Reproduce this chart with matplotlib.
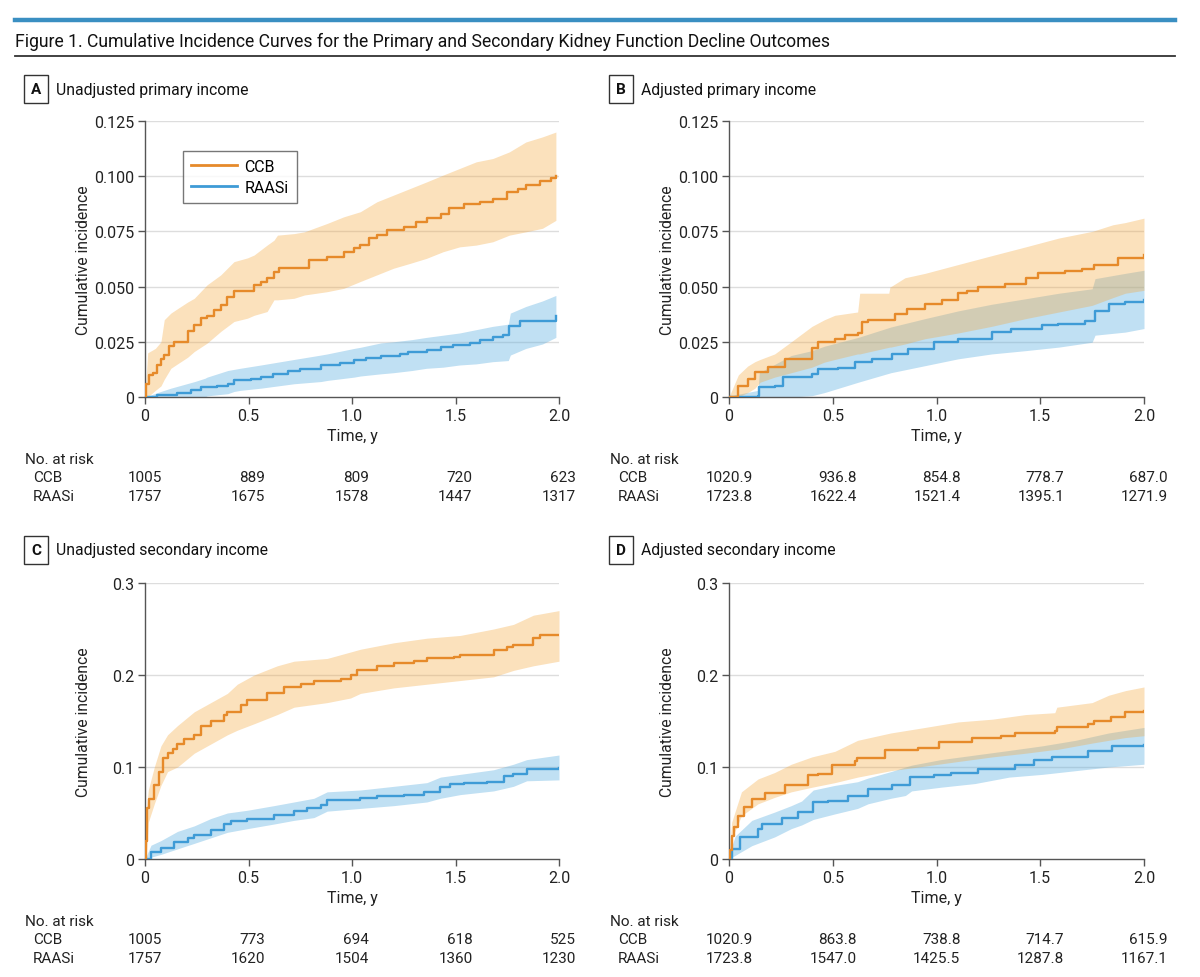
import matplotlib
matplotlib.use("Agg")
import matplotlib.pyplot as plt
from matplotlib import transforms
from matplotlib.lines import Line2D

plt.rcParams['font.family'] = ['Roboto', 'DejaVu Sans']

# ---------------- DATA ----------------
time_ticks = [0, 0.5, 1.0, 1.5, 2.0]
time_tick_labels = ['0', '0.5', '1.0', '1.5', '2.0']
yticks_primary = [0, 0.025, 0.050, 0.075, 0.100, 0.125]
ylabels_primary = ['0', '0.025', '0.050', '0.075', '0.100', '0.125']
yticks_secondary = [0, 0.1, 0.2, 0.3]
ylabels_secondary = ['0', '0.1', '0.2', '0.3']
groups = ['CCB', 'RAASi']

# Panel A - unadjusted primary
a_ccb_t = [0, 0.005, 0.02, 0.037, 0.06, 0.077, 0.093, 0.117, 0.141, 0.206, 0.238, 0.27, 0.30, 0.334, 0.366, 0.398, 0.43, 0.527, 0.559, 0.59, 0.623, 0.647, 0.792, 0.88, 0.96, 1.009, 1.041, 1.08, 1.12, 1.17, 1.25, 1.31, 1.36, 1.43, 1.47, 1.54, 1.62, 1.68, 1.75, 1.80, 1.84, 1.91, 1.96, 1.985]
a_ccb_y = [0, 0.006, 0.01, 0.011, 0.0146, 0.017, 0.019, 0.023, 0.025, 0.0297, 0.0327, 0.0357, 0.0365, 0.0395, 0.0417, 0.0455, 0.048, 0.0507, 0.0523, 0.0538, 0.0568, 0.0586, 0.062, 0.0636, 0.0658, 0.0673, 0.0688, 0.0718, 0.0733, 0.0756, 0.0771, 0.0794, 0.0809, 0.0831, 0.0854, 0.0872, 0.0884, 0.0899, 0.0929, 0.0941, 0.0959, 0.0977, 0.099, 0.100]
a_ccb_ci_t = [0, 0.013, 0.05, 0.077, 0.093, 0.125, 0.157, 0.206, 0.238, 0.30, 0.366, 0.43, 0.495, 0.527, 0.59, 0.623, 0.64, 0.72, 0.77, 0.88, 0.96, 1.04, 1.12, 1.2, 1.28, 1.36, 1.44, 1.52, 1.60, 1.68, 1.76, 1.84, 1.92, 1.985]
a_ccb_hi = [0, 0.02, 0.022, 0.025, 0.035, 0.038, 0.040, 0.043, 0.0447, 0.0508, 0.0553, 0.0613, 0.063, 0.0643, 0.0688, 0.071, 0.0733, 0.074, 0.0748, 0.0786, 0.0816, 0.0839, 0.0884, 0.0914, 0.0944, 0.0974, 0.1005, 0.1035, 0.1065, 0.108, 0.111, 0.1155, 0.1178, 0.12]
a_ccb_lo = [0, 0, 0.003, 0.005, 0.008, 0.013, 0.015, 0.018, 0.0206, 0.0244, 0.0297, 0.0342, 0.0357, 0.037, 0.0387, 0.044, 0.044, 0.0447, 0.0462, 0.0477, 0.0492, 0.0523, 0.0553, 0.0583, 0.0605, 0.0628, 0.0658, 0.068, 0.0688, 0.0703, 0.0733, 0.0748, 0.0764, 0.08]
a_raas_t = [0, 0.06, 0.157, 0.22, 0.27, 0.35, 0.40, 0.43, 0.51, 0.56, 0.62, 0.69, 0.75, 0.85, 0.94, 1.01, 1.07, 1.14, 1.23, 1.27, 1.36, 1.43, 1.49, 1.57, 1.62, 1.68, 1.73, 1.76, 1.81, 1.91, 1.985]
a_raas_y = [0, 0.001, 0.002, 0.003, 0.0045, 0.005, 0.0057, 0.0075, 0.008, 0.009, 0.0105, 0.0116, 0.0128, 0.0143, 0.0155, 0.0166, 0.0175, 0.0185, 0.0196, 0.0205, 0.0215, 0.0226, 0.0236, 0.0245, 0.026, 0.027, 0.028, 0.032, 0.0345, 0.0345, 0.0365]
a_raas_ci_t = [0, 0.06, 0.125, 0.24, 0.29, 0.30, 0.35, 0.40, 0.43, 0.46, 0.56, 0.72, 0.85, 0.88, 1.01, 1.04, 1.14, 1.2, 1.29, 1.36, 1.44, 1.52, 1.60, 1.68, 1.755, 1.765, 1.84, 1.92, 1.985]
a_raas_hi = [0, 0.002, 0.004, 0.007, 0.0085, 0.009, 0.0105, 0.012, 0.0125, 0.013, 0.0145, 0.017, 0.019, 0.0195, 0.022, 0.0225, 0.0245, 0.025, 0.026, 0.027, 0.028, 0.029, 0.0305, 0.032, 0.033, 0.038, 0.041, 0.0435, 0.046]
a_raas_lo = [0, 0, 0, 0, 0, 0.0005, 0.001, 0.0015, 0.0025, 0.003, 0.004, 0.006, 0.007, 0.0075, 0.009, 0.0095, 0.0105, 0.011, 0.012, 0.013, 0.0135, 0.0145, 0.015, 0.016, 0.0165, 0.019, 0.022, 0.024, 0.027]

# Panel B - adjusted primary
b_ccb_t = [0, 0.045, 0.093, 0.125, 0.19, 0.27, 0.40, 0.43, 0.51, 0.56, 0.623, 0.64, 0.67, 0.8, 0.856, 0.945, 1.025, 1.105, 1.145, 1.2, 1.33, 1.43, 1.49, 1.62, 1.70, 1.76, 1.876, 2.0]
b_ccb_y = [0, 0.005, 0.008, 0.0115, 0.0135, 0.017, 0.022, 0.025, 0.0264, 0.028, 0.029, 0.034, 0.035, 0.0377, 0.040, 0.042, 0.044, 0.047, 0.048, 0.050, 0.051, 0.054, 0.056, 0.057, 0.058, 0.060, 0.063, 0.0645]
b_ccb_ci_t = [0, 0.045, 0.09, 0.125, 0.15, 0.22, 0.30, 0.40, 0.46, 0.51, 0.62, 0.63, 0.77, 0.776, 0.78, 0.848, 0.945, 1.105, 1.266, 1.43, 1.59, 1.75, 1.85, 1.91, 2.0]
b_ccb_hi = [0, 0.01, 0.014, 0.016, 0.017, 0.0195, 0.025, 0.032, 0.035, 0.037, 0.0385, 0.047, 0.047, 0.050, 0.050, 0.054, 0.056, 0.060, 0.064, 0.068, 0.072, 0.075, 0.078, 0.079, 0.081]
b_ccb_lo = [0, 0, 0.002, 0.004, 0.0067, 0.009, 0.011, 0.0135, 0.0158, 0.017, 0.0195, 0.0195, 0.0225, 0.0226, 0.0226, 0.024, 0.0264, 0.029, 0.032, 0.0355, 0.0385, 0.0415, 0.045, 0.047, 0.0483]
b_raas_t = [0, 0.14, 0.146, 0.22, 0.26, 0.40, 0.43, 0.527, 0.607, 0.69, 0.784, 0.864, 0.99, 1.105, 1.266, 1.36, 1.507, 1.587, 1.716, 1.764, 1.83, 1.91, 2.0]
b_raas_y = [0, 0.0006, 0.0044, 0.005, 0.009, 0.0105, 0.0127, 0.013, 0.0158, 0.0173, 0.0195, 0.0218, 0.0248, 0.0264, 0.0294, 0.0306, 0.0324, 0.0332, 0.0342, 0.039, 0.042, 0.043, 0.044]
b_raas_ci_t = [0, 0.03, 0.14, 0.146, 0.30, 0.40, 0.46, 0.623, 0.78, 0.945, 1.105, 1.266, 1.43, 1.59, 1.75, 1.764, 1.91, 2.0]
b_raas_hi = [0, 0.001, 0.003, 0.011, 0.0188, 0.021, 0.023, 0.027, 0.0317, 0.0355, 0.039, 0.042, 0.0445, 0.047, 0.049, 0.0536, 0.056, 0.0574]
b_raas_lo = [0, 0, 0, 0, 0, 0.0006, 0.002, 0.0067, 0.011, 0.0142, 0.0173, 0.0195, 0.021, 0.0226, 0.0248, 0.028, 0.0294, 0.031]

# Panel C - unadjusted secondary
c_ccb_t = [0, 0.005, 0.01, 0.021, 0.045, 0.069, 0.085, 0.109, 0.133, 0.157, 0.19, 0.238, 0.27, 0.318, 0.382, 0.398, 0.463, 0.495, 0.591, 0.671, 0.752, 0.816, 0.945, 0.993, 1.025, 1.121, 1.202, 1.298, 1.362, 1.491, 1.523, 1.684, 1.748, 1.78, 1.876, 1.908, 2.0]
c_ccb_y = [0, 0.02, 0.055, 0.065, 0.08, 0.095, 0.11, 0.115, 0.12, 0.125, 0.13, 0.135, 0.145, 0.150, 0.157, 0.16, 0.167, 0.173, 0.180, 0.187, 0.190, 0.193, 0.196, 0.200, 0.205, 0.210, 0.213, 0.215, 0.218, 0.220, 0.222, 0.227, 0.230, 0.233, 0.240, 0.243, 0.243]
c_ccb_ci_t = [0, 0.005, 0.016, 0.045, 0.077, 0.109, 0.157, 0.238, 0.318, 0.398, 0.446, 0.527, 0.639, 0.72, 0.88, 0.993, 1.041, 1.202, 1.362, 1.523, 1.684, 1.78, 1.876, 2.0]
c_ccb_hi = [0, 0.05, 0.075, 0.10, 0.123, 0.135, 0.145, 0.160, 0.170, 0.180, 0.190, 0.200, 0.210, 0.215, 0.218, 0.225, 0.228, 0.235, 0.240, 0.243, 0.250, 0.255, 0.265, 0.270]
c_ccb_lo = [0, 0.0, 0.04, 0.06, 0.08, 0.095, 0.100, 0.115, 0.125, 0.135, 0.140, 0.147, 0.157, 0.165, 0.170, 0.175, 0.180, 0.186, 0.190, 0.194, 0.198, 0.205, 0.210, 0.215]
c_raas_t = [0, 0.029, 0.077, 0.141, 0.206, 0.238, 0.318, 0.382, 0.414, 0.495, 0.559, 0.623, 0.72, 0.784, 0.848, 0.88, 1.041, 1.121, 1.25, 1.346, 1.427, 1.475, 1.539, 1.651, 1.732, 1.78, 1.844, 1.956, 2.0]
c_raas_y = [0, 0.008, 0.012, 0.019, 0.023, 0.026, 0.032, 0.038, 0.041, 0.043, 0.044, 0.048, 0.052, 0.055, 0.059, 0.064, 0.066, 0.069, 0.070, 0.073, 0.078, 0.082, 0.083, 0.084, 0.090, 0.092, 0.098, 0.098, 0.099]
c_raas_ci_t = [0, 0.029, 0.077, 0.157, 0.238, 0.318, 0.398, 0.495, 0.623, 0.72, 0.816, 0.88, 1.041, 1.202, 1.362, 1.427, 1.523, 1.684, 1.78, 1.844, 2.0]
c_raas_hi = [0, 0.015, 0.02, 0.03, 0.036, 0.044, 0.050, 0.053, 0.058, 0.062, 0.066, 0.073, 0.075, 0.079, 0.083, 0.089, 0.092, 0.097, 0.103, 0.108, 0.113]
c_raas_lo = [0, 0.002, 0.005, 0.011, 0.017, 0.023, 0.029, 0.033, 0.038, 0.042, 0.045, 0.052, 0.055, 0.058, 0.062, 0.066, 0.070, 0.074, 0.079, 0.085, 0.086]

# Panel D - adjusted secondary
d_ccb_t = [0, 0.003, 0.013, 0.025, 0.045, 0.07, 0.109, 0.173, 0.27, 0.382, 0.43, 0.495, 0.607, 0.615, 0.75, 0.91, 1.01, 1.17, 1.31, 1.38, 1.57, 1.58, 1.73, 1.76, 1.84, 1.91, 2.0]
d_ccb_y = [0, 0.01, 0.025, 0.035, 0.047, 0.056, 0.065, 0.072, 0.08, 0.091, 0.092, 0.102, 0.107, 0.11, 0.119, 0.121, 0.127, 0.131, 0.134, 0.137, 0.139, 0.143, 0.147, 0.150, 0.154, 0.160, 0.161]
d_ccb_ci_t = [0, 0.013, 0.06, 0.14, 0.22, 0.30, 0.40, 0.51, 0.62, 0.78, 0.945, 1.105, 1.27, 1.43, 1.57, 1.58, 1.75, 1.83, 1.91, 2.0]
d_ccb_hi = [0.005, 0.04, 0.073, 0.087, 0.094, 0.103, 0.111, 0.117, 0.129, 0.137, 0.143, 0.149, 0.152, 0.157, 0.159, 0.165, 0.170, 0.178, 0.183, 0.187]
d_ccb_lo = [0, 0.022, 0.047, 0.060, 0.067, 0.073, 0.078, 0.083, 0.089, 0.096, 0.101, 0.106, 0.111, 0.115, 0.119, 0.119, 0.126, 0.129, 0.132, 0.134]
d_raas_t = [0, 0.013, 0.053, 0.14, 0.157, 0.254, 0.334, 0.406, 0.479, 0.575, 0.67, 0.784, 0.872, 0.99, 1.07, 1.2, 1.38, 1.47, 1.555, 1.65, 1.73, 1.845, 2.0]
d_raas_y = [0, 0.011, 0.024, 0.033, 0.038, 0.045, 0.051, 0.062, 0.063, 0.069, 0.076, 0.080, 0.089, 0.091, 0.094, 0.098, 0.102, 0.108, 0.111, 0.111, 0.117, 0.123, 0.124]
d_raas_ci_t = [0, 0.03, 0.11, 0.22, 0.30, 0.35, 0.406, 0.51, 0.62, 0.67, 0.78, 0.85, 0.88, 1.02, 1.185, 1.35, 1.51, 1.67, 1.83, 2.0]
d_raas_hi = [0.005, 0.025, 0.042, 0.051, 0.058, 0.063, 0.075, 0.080, 0.084, 0.088, 0.095, 0.100, 0.102, 0.108, 0.113, 0.118, 0.123, 0.129, 0.137, 0.143]
d_raas_lo = [0, 0.004, 0.0145, 0.024, 0.033, 0.037, 0.043, 0.049, 0.055, 0.060, 0.066, 0.069, 0.074, 0.078, 0.082, 0.089, 0.092, 0.096, 0.100, 0.103]

# Number at risk
a_risk_ccb = ['1005', '889', '809', '720', '623']
a_risk_raas = ['1757', '1675', '1578', '1447', '1317']
b_risk_ccb = ['1020.9', '936.8', '854.8', '778.7', '687.0']
b_risk_raas = ['1723.8', '1622.4', '1521.4', '1395.1', '1271.9']
c_risk_ccb = ['1005', '773', '694', '618', '525']
c_risk_raas = ['1757', '1620', '1504', '1360', '1230']
d_risk_ccb = ['1020.9', '863.8', '738.8', '714.7', '615.9']
d_risk_raas = ['1723.8', '1547.0', '1425.5', '1287.8', '1167.1']

panel_letters = ['A', 'B', 'C', 'D']
panel_titles = ['Unadjusted primary income', 'Adjusted primary income',
                'Unadjusted secondary income', 'Adjusted secondary income']
title = 'Figure 1. Cumulative Incidence Curves for the Primary and Secondary Kidney Function Decline Outcomes'

# ---------------- STYLE ----------------
W, H = 1200, 978
ORANGE = '#E68A2A'
BLUE = '#3E9BD6'
ORANGE_FILL = '#F4A940'
BLUE_FILL = '#5AAEE0'
DARK = '#333333'
AXC = '#555555'
GRID = '#DDDDDD'
TXT = '#222222'

fig = plt.figure(figsize=(W / 100, H / 100), dpi=100)

def fx(x):
    return x / W

def fy(y):
    return 1 - y / H

# header
fig.add_artist(Line2D([fx(15), fx(1175)], [fy(21), fy(21)], color='#3A8FC2', lw=3.2))
fig.text(fx(15), fy(42), title, fontsize=12.7, color='#111111', ha='left', va='center')
fig.add_artist(Line2D([fx(15), fx(1175)], [fy(57), fy(57)], color=DARK, lw=1.3))

panels = [
    dict(box=(145, 122, 559, 398), ox=0, yt=yticks_primary, yl=ylabels_primary, ymax=0.125,
         ccb=(a_ccb_t, a_ccb_y, a_ccb_ci_t, a_ccb_lo, a_ccb_hi),
         raas=(a_raas_t, a_raas_y, a_raas_ci_t, a_raas_lo, a_raas_hi),
         risk=(a_risk_ccb, a_risk_raas), roff=17, ttl_y=90, tab_y=(460, 478, 497)),
    dict(box=(729, 122, 1144, 398), ox=585, yt=yticks_primary, yl=ylabels_primary, ymax=0.125,
         ccb=(b_ccb_t, b_ccb_y, b_ccb_ci_t, b_ccb_lo, b_ccb_hi),
         raas=(b_raas_t, b_raas_y, b_raas_ci_t, b_raas_lo, b_raas_hi),
         risk=(b_risk_ccb, b_risk_raas), roff=24, ttl_y=90, tab_y=(460, 478, 497)),
    dict(box=(145, 584, 559, 860), ox=0, yt=yticks_secondary, yl=ylabels_secondary, ymax=0.3,
         ccb=(c_ccb_t, c_ccb_y, c_ccb_ci_t, c_ccb_lo, c_ccb_hi),
         raas=(c_raas_t, c_raas_y, c_raas_ci_t, c_raas_lo, c_raas_hi),
         risk=(c_risk_ccb, c_risk_raas), roff=17, ttl_y=551, tab_y=(922, 940, 959)),
    dict(box=(729, 584, 1144, 860), ox=585, yt=yticks_secondary, yl=ylabels_secondary, ymax=0.3,
         ccb=(d_ccb_t, d_ccb_y, d_ccb_ci_t, d_ccb_lo, d_ccb_hi),
         raas=(d_raas_t, d_raas_y, d_raas_ci_t, d_raas_lo, d_raas_hi),
         risk=(d_risk_ccb, d_risk_raas), roff=24, ttl_y=551, tab_y=(922, 940, 959)),
]

for i, p in enumerate(panels):
    l, t, r, b = p['box']
    ax = fig.add_axes([fx(l), fy(b), (r - l) / W, (b - t) / H])
    ax.set_xlim(0, 2.0)
    ax.set_ylim(0, p['ymax'])
    for s in ['top', 'right']:
        ax.spines[s].set_visible(False)
    for s in ['left', 'bottom']:
        ax.spines[s].set_color(AXC)
        ax.spines[s].set_linewidth(1.0)
    ax.set_xticks(time_ticks)
    ax.set_xticklabels(time_tick_labels)
    ax.set_yticks(p['yt'])
    ax.set_yticklabels(p['yl'])
    ax.tick_params(direction='out', length=5, width=1, color=AXC, labelsize=11.5,
                   labelcolor=TXT, pad=3)
    for yv in p['yt'][1:]:
        ax.axhline(yv, color=GRID, lw=1.0, zorder=0)

    # confidence bands: blue first, then orange
    rt, ry, rct, rlo, rhi = p['raas']
    ct, cy, cct, clo, chi = p['ccb']
    ax.fill_between(rct, rlo, rhi, color=BLUE_FILL, alpha=0.38, lw=0, zorder=1)
    ax.fill_between(cct, clo, chi, color=ORANGE_FILL, alpha=0.35, lw=0, zorder=2)
    ax.plot(ct, cy, drawstyle='steps-post', color=ORANGE, lw=1.7, zorder=4, label=groups[0])
    ax.plot(rt, ry, drawstyle='steps-post', color=BLUE, lw=1.7, zorder=3, label=groups[1])

    if i == 0:
        leg = ax.legend(loc='upper left', bbox_to_anchor=(38 / 414, 246 / 276),
                        frameon=True, fancybox=False, edgecolor=AXC, fontsize=11.5,
                        handlelength=2.9, handletextpad=0.45, labelspacing=0.35,
                        borderpad=0.5, borderaxespad=0)
        leg.get_frame().set_linewidth(1.0)
        for h in leg.legend_handles:
            h.set_linewidth(2.0)

    # axis labels
    fig.text(fx(l - 62), fy((t + b) / 2), 'Cumulative incidence', rotation=90,
             fontsize=11.3, color=TXT, ha='center', va='center')
    fig.text(fx((l + r) / 2), fy(b + 39), 'Time, y', fontsize=11.5, color=TXT,
             ha='center', va='center')

    # panel title with letter box
    ox = p['ox']
    fig.text(fx(36 + ox), fy(p['ttl_y']), panel_letters[i], fontsize=11, fontweight='bold',
             ha='center', va='center', color='#111111',
             bbox=dict(boxstyle='square,pad=0.45', fc='white', ec=DARK, lw=1.0))
    fig.text(fx(56 + ox), fy(p['ttl_y']), panel_titles[i], fontsize=11.3,
             ha='left', va='center', color='#111111')

    # number at risk table
    y0, y1, y2 = p['tab_y']
    fig.text(fx(25 + ox), fy(y0), 'No. at risk', fontsize=11, ha='left', va='center', color=TXT)
    fig.text(fx(33 + ox), fy(y1), groups[0], fontsize=11, ha='left', va='center', color=TXT)
    fig.text(fx(33 + ox), fy(y2), groups[1], fontsize=11, ha='left', va='center', color=TXT)
    trans = transforms.blended_transform_factory(ax.transData, fig.transFigure) + \
        transforms.ScaledTranslation(p['roff'] / 100, 0, fig.dpi_scale_trans)
    for tv, v1, v2 in zip(time_ticks, p['risk'][0], p['risk'][1]):
        fig.text(tv, fy(y1), v1, transform=trans, fontsize=11, ha='right', va='center', color=TXT)
        fig.text(tv, fy(y2), v2, transform=trans, fontsize=11, ha='right', va='center', color=TXT)

fig.savefig('out.png', dpi=100, facecolor='white')
